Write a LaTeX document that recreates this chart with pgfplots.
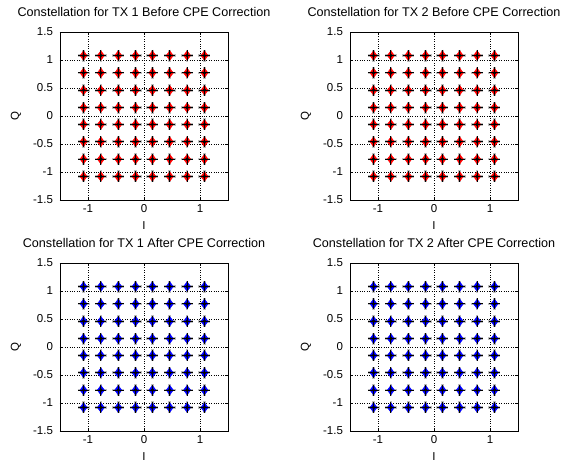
\documentclass[border=0pt]{standalone}
\usepackage{fontspec}
\setmainfont{Liberation Sans}
\usepackage{pgfplots}
\usepackage{pgfplotstable}
\pgfplotsset{compat=1.18}

\pgfplotstableread{
I Q
-1.08 -1.08
-1.08 -0.77
-1.08 -0.46
-1.08 -0.15
-1.08 0.15
-1.08 0.46
-1.08 0.77
-1.08 1.08
-0.77 -1.08
-0.77 -0.77
-0.77 -0.46
-0.77 -0.15
-0.77 0.15
-0.77 0.46
-0.77 0.77
-0.77 1.08
-0.46 -1.08
-0.46 -0.77
-0.46 -0.46
-0.46 -0.15
-0.46 0.15
-0.46 0.46
-0.46 0.77
-0.46 1.08
-0.15 -1.08
-0.15 -0.77
-0.15 -0.46
-0.15 -0.15
-0.15 0.15
-0.15 0.46
-0.15 0.77
-0.15 1.08
0.15 -1.08
0.15 -0.77
0.15 -0.46
0.15 -0.15
0.15 0.15
0.15 0.46
0.15 0.77
0.15 1.08
0.46 -1.08
0.46 -0.77
0.46 -0.46
0.46 -0.15
0.46 0.15
0.46 0.46
0.46 0.77
0.46 1.08
0.77 -1.08
0.77 -0.77
0.77 -0.46
0.77 -0.15
0.77 0.15
0.77 0.46
0.77 0.77
0.77 1.08
1.08 -1.08
1.08 -0.77
1.08 -0.46
1.08 -0.15
1.08 0.15
1.08 0.46
1.08 0.77
1.08 1.08
}\ideal

\pgfplotsset{
  cstyle/.style={
    scale only axis, width=168pt, height=168pt,
    xmin=-1.5, xmax=1.5, ymin=-1.5, ymax=1.5,
    xtick={-1,0,1}, ytick={-1.5,-1,-0.5,0,0.5,1,1.5},
    grid=major, major grid style={dotted, black, line width=0.7pt},
    tick align=inside, major tick length=3pt,
    axis line style={black, line width=0.8pt},
    tick style={black, line width=0.6pt},
    xlabel={I}, ylabel={Q},
    /pgf/number format/assume math mode=true,
    ticklabel style={font=\fontsize{11.5}{12}\selectfont},
    yticklabel style={/pgf/number format/fixed, xshift=-3.5pt},
    xticklabel style={yshift=-1pt},
    label style={font=\fontsize{11.5}{12}\selectfont},
    xlabel style={at={(axis description cs:0.5,0)}, anchor=base, yshift=-29pt},
    ylabel style={at={(axis description cs:0,0.5)}, anchor=center, yshift=44pt},
    title style={font=\fontsize{12.6}{13}\selectfont, at={(axis description cs:0.5,1)}, anchor=base, yshift=10pt},
  },
  halo/.style={only marks, mark=+, mark size=6pt, gray!50, line width=2.6pt},
  core/.style={only marks, mark=diamond*, mark size=4.8pt, #1, mark options={draw=#1, fill=#1}},
  cross/.style={only marks, mark=+, mark size=5.5pt, black, line width=0.8pt},
  dot/.style={only marks, mark=*, mark size=1.5pt, black},
}

\begin{document}
\begin{tikzpicture}
\useasboundingbox (0,0) rectangle (563pt,-464pt);

\begin{axis}[cstyle, at={(60pt,-200pt)}, anchor=south west,
  title={Constellation for TX 1 Before CPE Correction}]
\addplot[halo] table {\ideal};
\addplot[core=red] table {\ideal};
\addplot[cross] table {\ideal};
\addplot[dot] table {\ideal};
\end{axis}

\begin{axis}[cstyle, at={(350pt,-200pt)}, anchor=south west,
  title={Constellation for TX 2 Before CPE Correction}]
\addplot[halo] table {\ideal};
\addplot[core=red] table {\ideal};
\addplot[cross] table {\ideal};
\addplot[dot] table {\ideal};
\end{axis}

\begin{axis}[cstyle, at={(60pt,-431pt)}, anchor=south west,
  title={Constellation for TX 1 After CPE Correction}]
\addplot[halo] table {\ideal};
\addplot[core=blue] table {\ideal};
\addplot[cross] table {\ideal};
\addplot[dot] table {\ideal};
\end{axis}

\begin{axis}[cstyle, at={(350pt,-431pt)}, anchor=south west,
  title={Constellation for TX 2 After CPE Correction}]
\addplot[halo] table {\ideal};
\addplot[core=blue] table {\ideal};
\addplot[cross] table {\ideal};
\addplot[dot] table {\ideal};
\end{axis}
\end{tikzpicture}
\end{document}
